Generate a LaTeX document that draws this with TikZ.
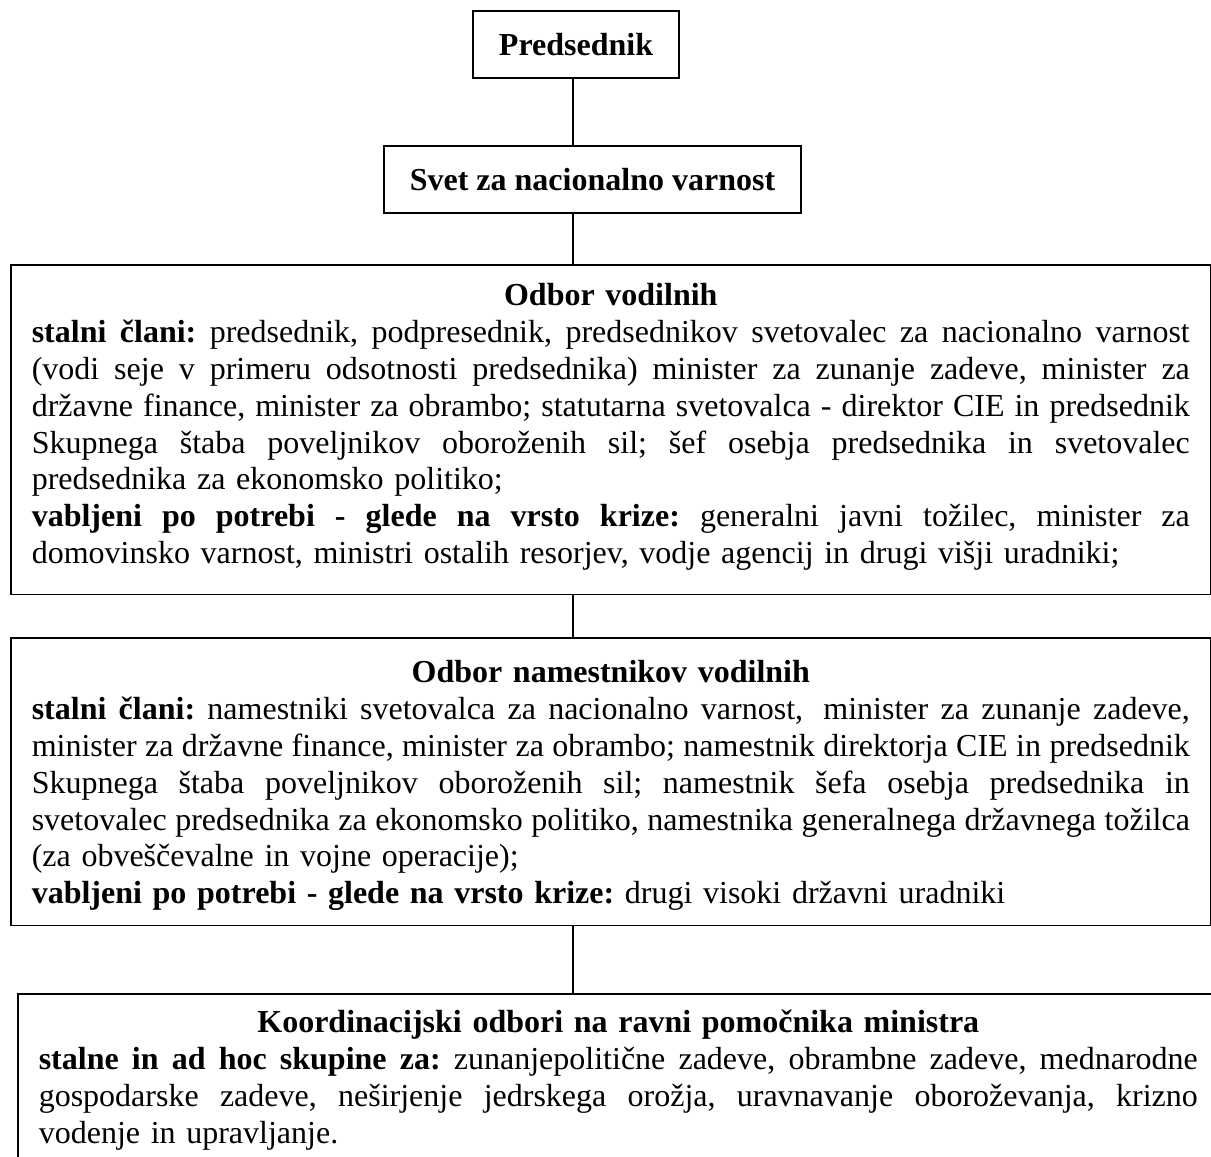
\documentclass[tikz,border=0pt]{standalone}
\usepackage{fontspec}
\setmainfont{Liberation Serif}
\setlength{\parindent}{0pt}
\setlength{\parskip}{0pt}
\frenchspacing

% one justified line: interword spaces stretch (or shrink) to the full width
\newcommand\jl[1]{{\spaceskip=8pt plus 40pt minus 2pt\xspaceskip=\spaceskip
  \makebox[\hsize][s]{#1}\par}}
% centred bold heading; #1 = distance from the frame to the first baseline
\newcommand\ttl[2]{{\centering\bfseries\rule{0pt}{#1}#2\par}}
% last line of a panel; #1 = distance from the baseline to the frame
\newcommand\lastl[2]{#2\rule[-#1]{0pt}{#1}\par}

\tikzset{
  box/.style={draw, line width=1.4pt, inner sep=0pt,
    font=\bfseries\fontsize{32pt}{36.8pt}\selectfont},
  panel/.style={draw, line width=1.6pt, anchor=north west,
    inner xsep=21pt, inner ysep=0pt, align=left,
    font=\fontsize{32pt}{36.8pt}\selectfont},
  conn/.style={line width=1.2pt},
}

\begin{document}
\begin{tikzpicture}[x=1pt,y=-1pt]
  \useasboundingbox (0,0) rectangle (1211,1157);
  \clip (0,0) rectangle (1211,1157);
  \fill[white] (0,0) rectangle (1211,1157);

  \coordinate (axis) at (573,0);

  \node[box, minimum width=206pt, minimum height=67pt] (pres) at (576,44.5) {Predsednik};
  \node[box, minimum width=417pt, minimum height=67pt] (svet) at (592.5,179.5) {Svet za nacionalno varnost};

  \node[panel, text width=1158pt] (vod) at (10,264) {%
    \ttl{41pt}{Odbor vodilnih}%
    \jl{\textbf{stalni člani:} predsednik, podpresednik, predsednikov svetovalec za nacionalno varnost}%
    \jl{(vodi seje v primeru odsotnosti predsednika) minister za zunanje zadeve, minister za}%
    \jl{državne finance, minister za obrambo; statutarna svetovalca - direktor CIE in predsednik}%
    \jl{Skupnega štaba poveljnikov oboroženih sil; šef osebja predsednika in svetovalec}%
    predsednika za ekonomsko politiko;\par
    \jl{\textbf{vabljeni po potrebi - glede na vrsto krize:} generalni javni tožilec, minister za}%
    \lastl{31pt}{domovinsko varnost, ministri ostalih resorjev, vodje agencij in drugi višji uradniki;}};

  \node[panel, text width=1158pt] (nam) at (10,637) {%
    \ttl{45pt}{Odbor namestnikov vodilnih}%
    \jl{\textbf{stalni člani:} namestniki svetovalca za nacionalno varnost,\hspace{8pt} minister za zunanje zadeve,}%
    \jl{minister za državne finance, minister za obrambo; namestnik direktorja CIE in predsednik}%
    \jl{Skupnega štaba poveljnikov oboroženih sil; namestnik šefa osebja predsednika in}%
    \jl{svetovalec predsednika za ekonomsko politiko, namestnika generalnega državnega tožilca}%
    (za obveščevalne in vojne operacije);\par
    \lastl{22pt}{\textbf{vabljeni po potrebi - glede na vrsto krize:} drugi visoki državni uradniki}};

  \node[panel, text width=1159pt] (koo) at (17,993) {%
    \ttl{39pt}{Koordinacijski odbori na ravni pomočnika ministra}%
    \jl{\textbf{stalne in ad hoc skupine za:} zunanjepolitične zadeve, obrambne zadeve, mednarodne}%
    \jl{gospodarske zadeve, neširjenje jedrskega orožja, uravnavanje oboroževanja, krizno}%
    \lastl{40pt}{vodenje in upravljanje.}};

  \draw[conn] (pres.south -| axis) -- (svet.north -| axis);
  \draw[conn] (svet.south -| axis) -- (vod.north -| axis);
  \draw[conn] (vod.south -| axis) -- (nam.north -| axis);
  \draw[conn] (nam.south -| axis) -- (koo.north -| axis);
\end{tikzpicture}
\end{document}
